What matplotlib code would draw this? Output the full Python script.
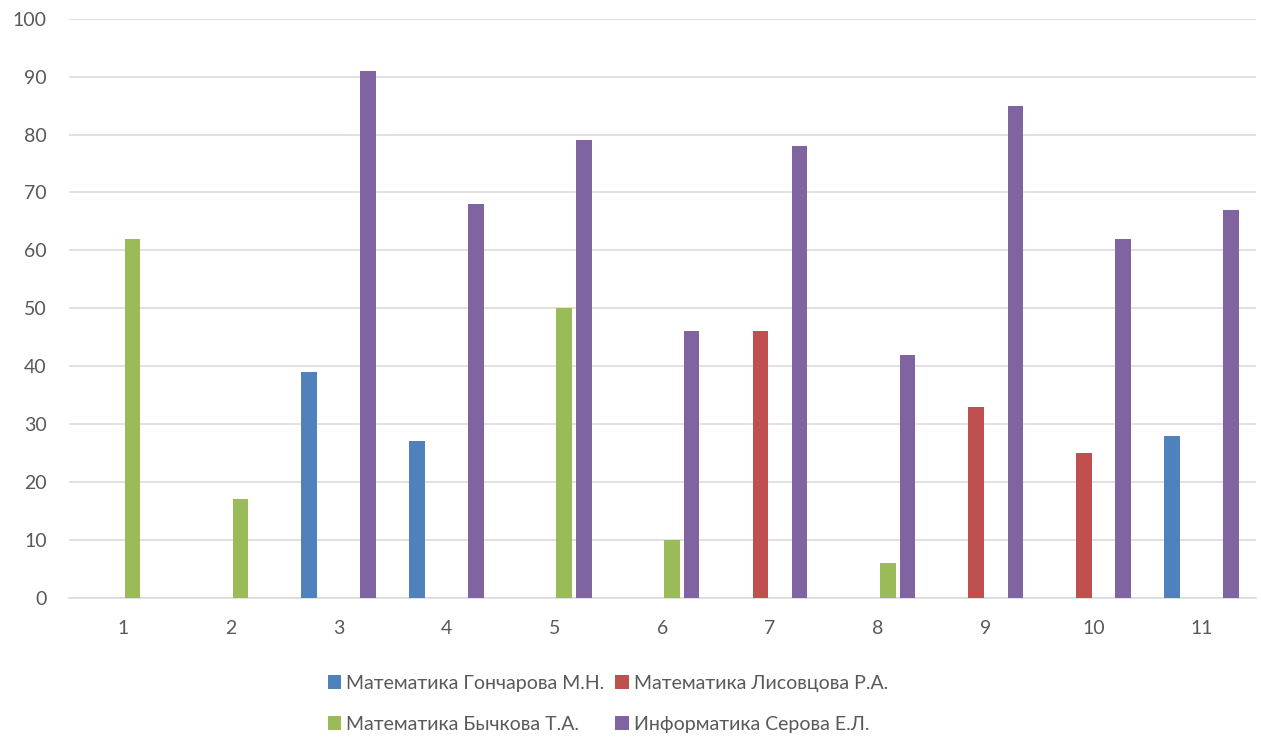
import numpy as np
import matplotlib
matplotlib.use('Agg')
import matplotlib.pyplot as plt
from matplotlib.patches import Patch

plt.rcParams['font.family'] = ['Lato', 'DejaVu Sans']
FS = 14

# class numbers along the x axis
categories = ['1', '2', '3', '4', '5', '6', '7', '8', '9', '10', '11']

# results per teacher, 0 = no bar
goncharova = [0, 0, 39, 27, 0, 0, 0, 0, 0, 0, 28]
lisovtsova = [0, 0, 0, 0, 0, 0, 46, 0, 33, 25, 0]
bychkova = [62, 17, 0, 0, 50, 10, 0, 6, 0, 0, 0]
serova = [0, 0, 91, 68, 79, 46, 78, 42, 85, 62, 67]

series_names = ['Математика Гончарова М.Н.', 'Математика Лисовцова Р.А.',
                'Математика Бычкова Т.А.', 'Информатика Серова Е.Л.']
colors = ['#4F81BD', '#C0504D', '#9BBB59', '#8064A2']

TEXT = '#595959'
GRID = '#D9D9D9'

fig = plt.figure(figsize=(12.61, 7.40), dpi=100)
ax = fig.add_axes([0.0546, 0.1923, 0.9411, 0.7824])

x = np.arange(len(categories))
step = 0.182
width = 0.144
all_series = [goncharova, lisovtsova, bychkova, serova]
for i, (vals, col) in enumerate(zip(all_series, colors)):
    vals = np.array(vals, dtype=float)
    vals[vals == 0] = np.nan
    ax.bar(x + (i - 1.5) * step, vals, width, color=col, linewidth=0, zorder=3)

ax.set_xlim(-0.5, len(categories) - 0.5)
ax.set_ylim(0, 100)
ax.set_yticks(np.arange(0, 101, 10))
ax.set_xticks(x)
ax.set_xticklabels(categories)
ax.grid(axis='y', color=GRID, linewidth=1.1, zorder=0)
ax.tick_params(axis='both', length=0, labelsize=FS, colors=TEXT)
ax.tick_params(axis='y', pad=16)
ax.tick_params(axis='x', pad=16)
for s in ['top', 'right', 'left']:
    ax.spines[s].set_visible(False)
ax.spines['bottom'].set_color(GRID)
ax.spines['bottom'].set_linewidth(1.1)

# legend: Excel fills rows, matplotlib fills columns
order = [0, 2, 1, 3]
handles = [Patch(facecolor=colors[k], label=series_names[k]) for k in order]
leg = fig.legend(handles=handles, ncol=2, loc='center left', bbox_to_anchor=(0.260, 0.049),
                 frameon=False, fontsize=FS, handlelength=0.7, handleheight=0.7,
                 handletextpad=0.25, columnspacing=0.55, labelspacing=1.25,
                 borderpad=0, borderaxespad=0)
for t in leg.get_texts():
    t.set_color(TEXT)

fig.savefig('out.png', dpi=100)
